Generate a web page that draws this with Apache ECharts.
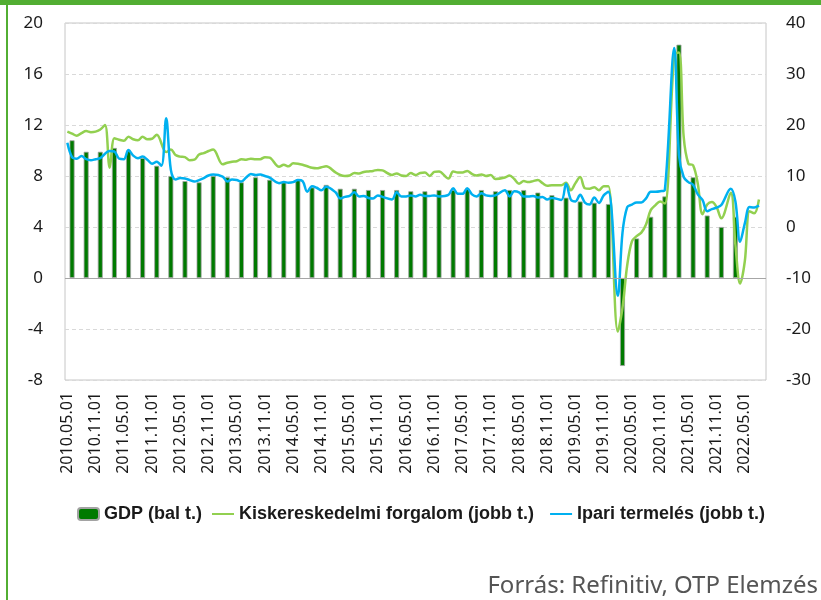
<!DOCTYPE html>
<html>
<head>
<meta charset="utf-8">
<script src="https://cdn.jsdelivr.net/npm/echarts@6/dist/echarts.min.js"></script>
<style>
html, body { margin: 0; padding: 0; background: #fff; }
#chart { width: 821px; height: 600px; }
</style>
</head>
<body>
<div id="chart"></div>
<script>
// monthly axis: 2010.05 .. 2022.09
const startYear = 2010, startMonth = 5, monthCount = 149;

// GDP, y/y %, quarterly from 2010 Q2 (plotted at the quarter's last month)
const gdpFirstMonth = '2010.06.01';
const gdp = [
  10.8, 9.9, 9.9,
  10.2, 10.0, 9.4, 8.8,
  8.0, 7.6, 7.5, 8.0,
  7.9, 7.5, 7.9, 7.7,
  7.5, 7.7, 7.1, 7.3,
  7.0, 7.0, 6.9, 6.9,
  6.9, 6.8, 6.8, 6.9,
  6.9, 7.0, 6.9, 6.8,
  6.9, 6.9, 6.7, 6.5,
  6.3, 6.0, 5.9, 5.8,
  -6.9, 3.1, 4.8, 6.4,
  18.3, 7.9, 4.9, 4.0,
  4.8
];

// retail sales, y/y %, monthly from 2010.05 (null = no January print)
const retail = [
  18.7, 18.3, 17.9, 18.4, 18.8, 18.6, 18.7, 19.1,
  20.0, 11.6, 17.4, 17.1, 16.9, 17.7, 17.2, 17.0, 17.7, 17.2, 17.3, 18.1,
  null, 14.7, 15.2, 14.1, 13.8, 13.7, 13.1, 13.2, 14.2, 14.5, 14.9, 15.2,
  null, 12.3, 12.6, 12.8, 12.9, 13.3, 13.2, 13.4, 13.3, 13.3, 13.7, 13.6,
  null, 11.8, 12.2, 11.9, 12.5, 12.4, 12.2, 11.9, 11.6, 11.5, 11.7, 11.9,
  null, 10.7, 10.2, 10.0, 10.1, 10.6, 10.5, 10.8, 10.9, 11.0, 11.2, 11.1,
  null, 10.2, 10.5, 10.1, 10.0, 10.6, 10.2, 10.6, 10.7, 10.0, 10.8, 10.9,
  null, 9.5, 10.9, 10.7, 10.7, 11.0, 10.4, 10.1, 10.3, 10.0, 10.2, 9.4,
  null, 9.7, 10.1, 9.4, 8.5, 9.0, 8.8, 9.0, 9.2, 8.6, 8.1, 8.2,
  null, 8.2, 8.7, 7.2, 8.6, 9.8, 7.6, 7.5, 7.8, 7.2, 8.0, 8.0,
  null, -20.5, -15.8, -7.5, -2.8, -1.8, -1.1, 0.5, 3.3, 4.3, 5.0, 4.6,
  null, 33.8, 34.2, 17.7, 12.4, 12.1, 8.5, 2.5, 4.4, 4.9, 3.9, 1.7,
  null, 6.7, -3.5, -11.1, -6.7, 3.1, 2.7, 5.4
];

// industrial production, y/y %, monthly from 2010.05
const industry = [
  16.5, 13.7, 13.4, 13.9, 13.3, 13.1, 13.3, 13.5,
  null, 14.9, 14.8, 13.4, 13.3, 15.1, 14.0, 13.5, 13.8, 13.2, 12.4, 12.8,
  12.0, 21.3, 11.2, 9.3, 9.6, 9.5, 9.2, 8.9, 9.2, 9.6, 10.1, 10.3,
  null, 9.9, 8.9, 9.3, 9.2, 8.9, 9.7, 10.4, 10.2, 10.3, 10.0, 9.7,
  null, 8.6, 8.8, 8.7, 8.8, 9.2, 9.0, 6.9, 8.0, 7.7, 7.2, 7.9,
  null, 6.8, 5.6, 5.9, 6.1, 6.8, 6.0, 6.1, 5.7, 5.6, 6.2, 5.9,
  null, 5.4, 6.8, 6.0, 6.0, 6.2, 6.0, 6.3, 6.1, 6.1, 6.2, 6.0,
  null, 6.3, 7.6, 6.5, 6.5, 7.6, 6.4, 6.0, 6.6, 6.2, 6.1, 6.2,
  null, 7.2, 6.0, 7.0, 6.8, 6.0, 6.0, 6.1, 5.8, 5.9, 5.4, 5.7,
  null, 5.3, 8.5, 5.4, 5.0, 6.3, 4.8, 4.4, 5.8, 4.7, 6.2, 6.9,
  null, -13.5, -1.1, 3.9, 4.4, 4.8, 4.8, 5.6, 6.9, 6.9, 7.0, 7.3,
  null, 35.1, 14.1, 9.8, 8.8, 8.3, 6.4, 5.3, 3.1, 3.5, 3.8, 4.3,
  null, 7.5, 5.0, -2.9, 0.7, 3.9, 3.8, 4.2
];

const seriesNames = ['GDP (bal t.)', 'Kiskereskedelmi forgalom (jobb t.)', 'Ipari termelés (jobb t.)'];

const months = [];
for (let k = 0; k < monthCount; k++) {
  const m = startMonth - 1 + k;
  const y = startYear + Math.floor(m / 12);
  const mm = (m % 12) + 1;
  months.push(y + '.' + (mm < 10 ? '0' + mm : mm) + '.01');
}
const gdpStart = months.indexOf(gdpFirstMonth);
const gdpBars = months.map(() => '-');
gdp.forEach((v, k) => { gdpBars[gdpStart + 3 * k] = v; });

const font = '"Noto Sans", sans-serif';
const frameGreen = '#52ae32';
const legendText = { fontFamily: '"Liberation Sans", Arial, sans-serif', fontWeight: 'bold', fontSize: 18, color: '#1a1a1a' };

const chart = echarts.init(document.getElementById('chart'));
chart.setOption({
  animation: false,
  backgroundColor: '#fff',
  grid: {
    left: 65, right: 55, top: 23, bottom: 220,
    show: true, borderColor: '#c6c6c6', borderWidth: 1
  },
  legend: [{
    data: [seriesNames[0]],
    left: 72, top: 500,
    itemWidth: 21, itemHeight: 12,
    textStyle: legendText
  }, {
    data: [seriesNames[1], seriesNames[2]],
    left: 207, top: 500,
    icon: 'rect',
    itemWidth: 22, itemHeight: 2, itemGap: 16,
    textStyle: legendText
  }],
  xAxis: {
    type: 'category',
    data: months,
    boundaryGap: true,
    axisLine: { show: false },
    axisTick: { show: false },
    axisLabel: {
      interval: 5, rotate: 90, margin: 12,
      fontFamily: font, fontSize: 16, color: '#1a1a1a'
    },
    splitLine: { show: false }
  },
  yAxis: [{
    type: 'value', min: -8, max: 20, interval: 4,
    axisLine: { show: false }, axisTick: { show: false },
    axisLabel: { fontFamily: font, fontSize: 17, color: '#1a1a1a', margin: 22 },
    splitLine: { lineStyle: { color: '#d9d9d9', type: [4, 3] } }
  }, {
    type: 'value', min: -30, max: 40, interval: 10,
    axisLine: { show: false }, axisTick: { show: false },
    axisLabel: { fontFamily: font, fontSize: 17, color: '#1a1a1a', margin: 20 },
    splitLine: { show: false }
  }],
  series: [{
    name: seriesNames[0],
    type: 'bar',
    yAxisIndex: 0,
    data: gdpBars,
    barWidth: 5,
    itemStyle: { color: '#007a00', borderColor: '#a3a3a3', borderWidth: 0.8 },
    markLine: {
      silent: true, symbol: 'none', label: { show: false },
      lineStyle: { color: '#a6a6a6', type: 'solid', width: 1 },
      data: [{ yAxis: 0 }]
    }
  }, {
    name: seriesNames[1],
    type: 'line',
    yAxisIndex: 1,
    data: retail,
    connectNulls: true,
    smooth: 0.35,
    symbol: 'none',
    lineStyle: { color: '#92d050', width: 2.5 },
    itemStyle: { color: '#92d050' }
  }, {
    name: seriesNames[2],
    type: 'line',
    yAxisIndex: 1,
    data: industry,
    connectNulls: true,
    smooth: 0.35,
    symbol: 'none',
    lineStyle: { color: '#00b0f0', width: 2.5 },
    itemStyle: { color: '#00b0f0' }
  }],
  graphic: [
    { type: 'rect', left: 0, top: 0, shape: { width: 821, height: 5 }, style: { fill: frameGreen } },
    { type: 'rect', left: 6, top: 0, shape: { width: 2, height: 600 }, style: { fill: frameGreen } },
    {
      type: 'text', right: 3, top: 574,
      style: { text: 'Forrás: Refinitiv, OTP Elemzés', font: '24px "Noto Sans", sans-serif', fill: '#555' }
    }
  ]
});
</script>
</body>
</html>
